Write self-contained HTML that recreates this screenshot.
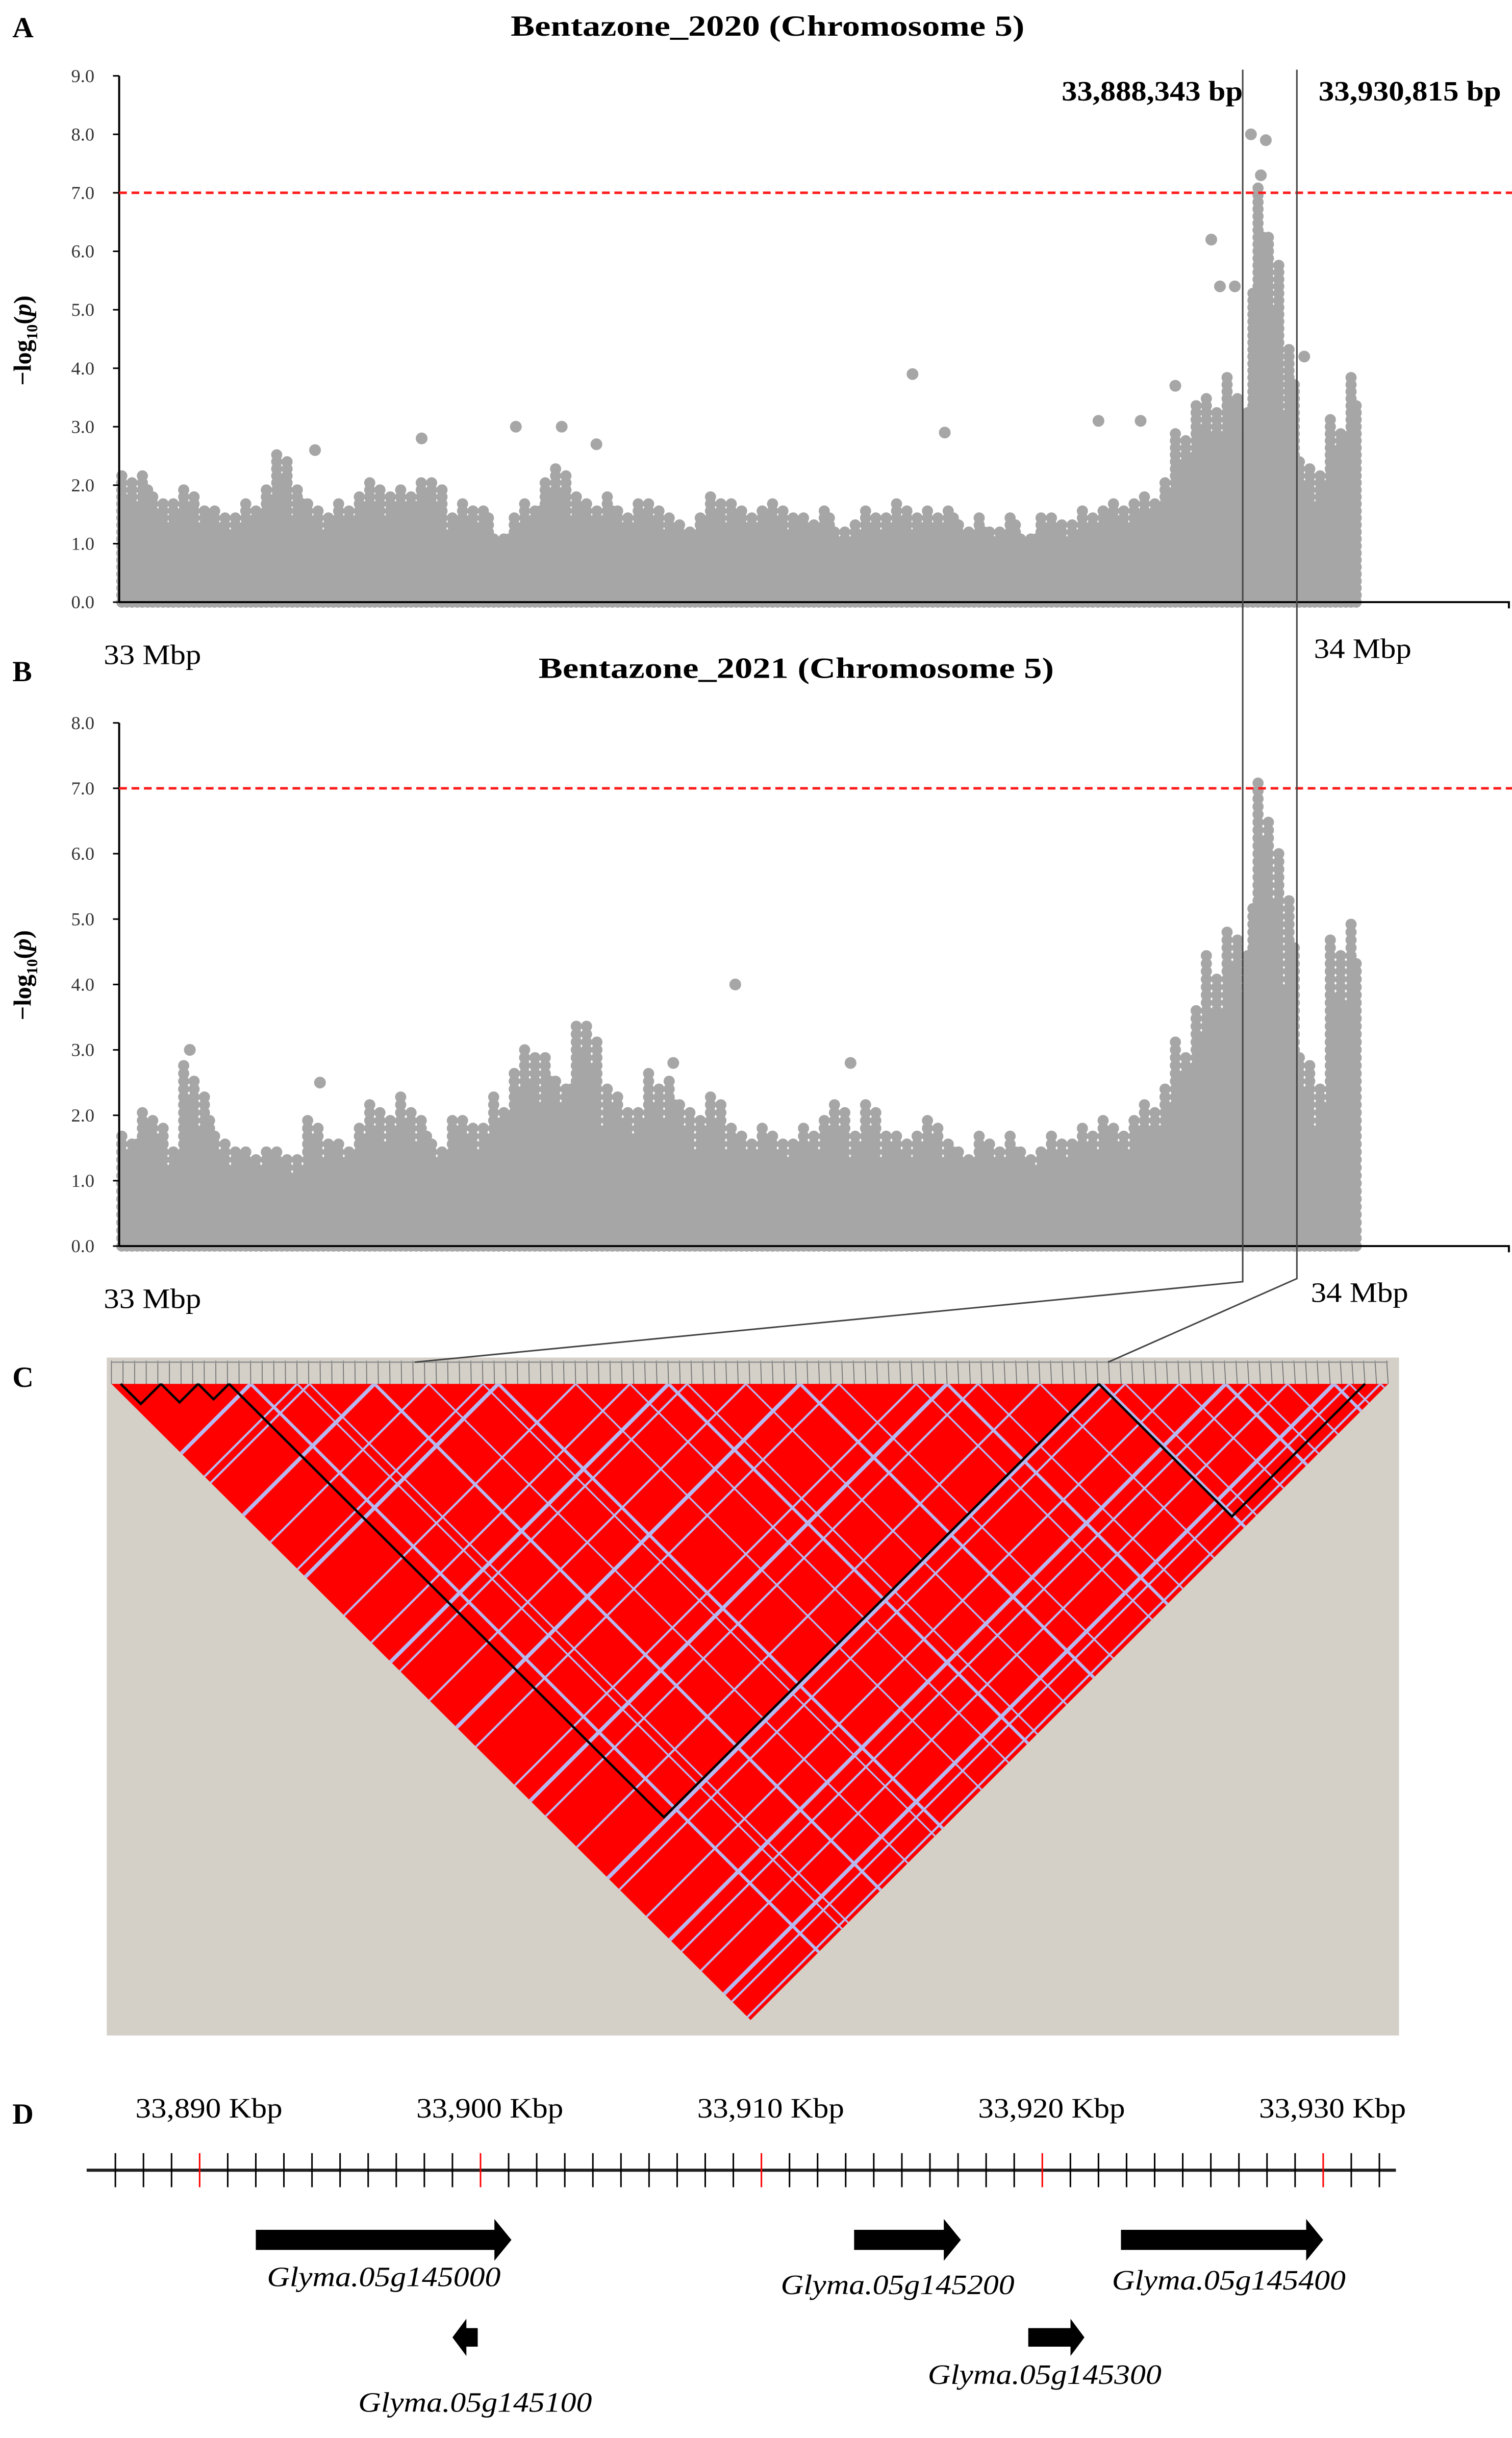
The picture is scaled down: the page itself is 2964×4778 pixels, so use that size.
<!DOCTYPE html>
<html><head><meta charset="utf-8"><style>
html,body{margin:0;padding:0;background:#fff}
svg{display:block}
text{font-family:"Liberation Serif",serif}
</style></head><body>
<svg id="fig" width="2964" height="4778" viewBox="0 0 977 1575" preserveAspectRatio="none" xmlns="http://www.w3.org/2000/svg">
<g id="panelA">
<text x="8" y="24" font-size="19" font-weight="bold">A</text>
<text x="330" y="23" font-size="19" font-weight="bold" textLength="332" lengthAdjust="spacingAndGlyphs">Bentazone_2020 (Chromosome  5)</text>
<text transform="translate(20,220) rotate(-90)" font-size="16" font-weight="bold" text-anchor="middle">−log<tspan font-size="10" dy="4">10</tspan><tspan dy="-4">(</tspan><tspan font-style="italic">p</tspan>)</text>
</g>
<g id="panelB">
<text x="8" y="440" font-size="19" font-weight="bold">B</text>
<text x="348" y="438" font-size="19" font-weight="bold" textLength="333" lengthAdjust="spacingAndGlyphs">Bentazone_2021 (Chromosome  5)</text>
<text transform="translate(20,630) rotate(-90)" font-size="16" font-weight="bold" text-anchor="middle">−log<tspan font-size="10" dy="4">10</tspan><tspan dy="-4">(</tspan><tspan font-style="italic">p</tspan>)</text>
</g>
<g id="panelC">
<text x="8" y="896" font-size="19" font-weight="bold">C</text>
</g>
<g id="panelD">
<text x="8" y="1372" font-size="19" font-weight="bold">D</text>
</g>
<g id="overlay"></g>
</svg>
<script>
// ---- Panel A data (max -log10(p) per 12.5 kb bin, 80 bins across 33-34 Mbp) ----
const envA = [2.2,2.3,1.9,1.8,2.0,1.7,1.6,1.5,1.8,2.1,
  2.6,2.0,1.7,1.6,1.8,1.9,2.1,1.9,2.0,2.2,
  2.1,1.6,1.8,1.7,1.2,1.5,1.8,2.2,2.4,1.9,
  1.8,1.9,1.6,1.8,1.7,1.5,1.4,1.6,1.9,1.8,
  1.6,1.7,1.8,1.6,1.5,1.7,1.3,1.4,1.6,1.5,
  1.8,1.5,1.6,1.7,1.4,1.5,1.3,1.6,1.2,1.5,
  1.5,1.4,1.6,1.7,1.8,1.8,1.9,2.2,3.0,3.5,
  3.5,4.0,3.6,7.4,6.3,4.5,2.5,2.3,3.2,4.0];
const outPosA = [158,244,320,357,640,666,881,888,900,913,925,921,956,790,824,852,385];
const outValA = [2.6,2.8,3.0,3.0,3.9,2.9,6.2,5.4,5.4,8.0,7.9,7.3,4.2,3.1,3.1,3.7,2.7];
const ticksA = ["0.0","1.0","2.0","3.0","4.0","5.0","6.0","7.0","8.0","9.0"];
// ---- Panel B data ----
const envB = [1.8,2.2,2.0,1.6,2.8,2.4,1.8,1.6,1.5,1.6,
  1.5,1.4,2.0,1.7,1.6,1.9,2.2,2.1,2.3,2.1,
  1.6,2.0,2.0,1.9,2.3,2.8,3.1,3.0,2.6,3.5,
  3.4,2.5,2.3,2.2,2.7,2.6,2.2,2.0,2.4,1.9,
  1.8,1.9,1.8,1.7,1.9,2.0,2.2,1.8,2.2,1.8,
  1.7,1.8,2.0,1.7,1.5,1.8,1.6,1.8,1.5,1.6,
  1.8,1.7,1.9,2.0,1.9,2.0,2.2,2.5,3.2,3.8,
  4.5,5.0,4.8,7.3,6.5,5.5,3.0,2.5,4.8,5.1];
const outPosB = [497,447,590,162,57];
const outValB = [4.0,2.8,2.8,2.5,3.0];
const ticksB = ["0.0","1.0","2.0","3.0","4.0","5.0","6.0","7.0","8.0"];
const threshold = 7.0;
// ---- Panel D gene data (kbp) ----
const geneNames = ["Glyma.05g145000","Glyma.05g145100","Glyma.05g145200","Glyma.05g145300","Glyma.05g145400"];
const geneStart = [33892.0,33899.0,33913.3,33919.5,33922.8];
const geneEnd = [33901.1,33899.9,33917.1,33921.5,33930.0];
const geneStrand = [1,-1,1,1,1];
const geneRow = [0,1,0,1,0];
const kbpLabels = [33890,33900,33910,33920,33930];

const NS="http://www.w3.org/2000/svg";
function mk(tag,attrs,parent){const e=document.createElementNS(NS,tag);for(const k in attrs)e.setAttribute(k,attrs[k]);parent.appendChild(e);return e;}

function manhattan(g,env,outPos,outVal,ticks,yTop,yBot,xEnd,tag){
  const x0=77,x1=878,ymax=ticks.length-1;
  const X=kb=>x0+kb/1000*(x1-x0);
  const Y=v=>yBot-v/ymax*(yBot-yTop);
  const pts=mk('g',{fill:'#a6a6a6'},g);
  
  
  const bw=1000/env.length;
  const jit=[1.0,0.8,0.93,0.72,0.97,0.85];
  env.forEach((v,i)=>{
    for(let c=0;c<3;c++){
      const kb=i*bw+bw*(c+0.5)/3;
      const top=v*jit[(i*3+c)%6];
      for(let y=0;y<=top;y+=0.12){
        mk('circle',{cx:X(kb).toFixed(1),cy:Y(y).toFixed(1),r:3.6},pts);
      }
    }
  });
  outPos.forEach((kb,i)=>{
    const p=mk('circle',{cx:X(kb),cy:Y(outVal[i]),r:3.8},pts);
    
    
  });
  const ax=mk('line',{x1:x0,y1:yTop,x2:x0,y2:yBot,stroke:'#000','stroke-width':1.3},g);
  
  
  const bx=mk('polyline',{points:`${x0},${yBot} ${xEnd},${yBot} ${xEnd},${yBot+4}`,fill:'none',stroke:'#000','stroke-width':1.3},g);
  
  
  ticks.forEach((t,i)=>{
    const tl=mk('line',{x1:x0-4,y1:Y(i),x2:x0,y2:Y(i),stroke:'#000'},g);
    
    
    const tx=mk('text',{x:x0-16,y:Y(i)+4,'font-size':12,'text-anchor':'end',fill:'#333'},g);
    tx.textContent=t;
    
    
  });
  const th=mk('line',{x1:x0,y1:Y(threshold),x2:977,y2:Y(threshold),stroke:'#ff1a1a','stroke-width':1.6,'stroke-dasharray':'5,3'},g);
  
  
}
const gA=document.getElementById('panelA'),gB=document.getElementById('panelB');
manhattan(gA,envA,outPosA,outValA,ticksA,49,389,975,'chart-a');
manhattan(gB,envB,outPosB,outValB,ticksB,467,805,975,'chart-b');
[[gA,67,429,'33 Mbp','x-start-label-a'],[gA,849,425,'34 Mbp','x-end-label-a'],[gB,67,845,'33 Mbp','x-start-label-b'],[gB,847,841,'34 Mbp','x-end-label-b']].forEach(a=>{
  const t=mk('text',{x:a[1],y:a[2],'font-size':18,textLength:63,lengthAdjust:'spacingAndGlyphs'},a[0]);t.textContent=a[3];
  
  
});
let t1=mk('text',{x:686,y:65,'font-size':18,'font-weight':'bold',textLength:117,lengthAdjust:'spacingAndGlyphs'},gA);t1.textContent='33,888,343 bp';


let t2=mk('text',{x:852,y:65,'font-size':18,'font-weight':'bold',textLength:118,lengthAdjust:'spacingAndGlyphs'},gA);t2.textContent='33,930,815 bp';



// ---- Panel C LD heatmap ----
const gC=document.getElementById('panelC');
let bg=mk('rect',{x:69,y:877,width:835,height:438,fill:'#d4d0c8'},gC);


const Lx=72,Rx=897,Ty=894,Ax=485,Ay=1305;
let tri=mk('polygon',{points:`${Lx},${Ty} ${Rx},${Ty} ${Ax},${Ay}`,fill:'#ff0000'},gC);


const clip=mk('clipPath',{id:'ldclip'},gC);mk('polygon',{points:`${Lx},${Ty} ${Rx},${Ty} ${Ax},${Ay}`},clip);
const lav=mk('g',{'clip-path':'url(#ldclip)',stroke:'#b8b8f0'},gC);


const offs=[90,120,128,170,205,240,250,300,335,360,372,410,445,470,520,540,560,600,640,655,690,720,735,760,790,800,820,850];
offs.forEach((o,i)=>{
  const x=Lx+o*(Rx-Lx)/825;const w=(i%3==0)?2.5:1.4;
  mk('line',{x1:x,y1:Ty,x2:x-450,y2:Ty+450,'stroke-width':w},lav);
  mk('line',{x1:x,y1:Ty,x2:x+450,y2:Ty+450,'stroke-width':w*0.8},lav);
});
const strip=mk('g',{stroke:'#777','stroke-width':0.6},gC);


for(let i=0;i<=110;i++){const xb=Lx+i*(Rx-Lx)/110;const xt=72+i*(896-72)/110;mk('line',{x1:xt,y1:879,x2:xb,y2:Ty},strip);}
mk('line',{x1:72,y1:880,x2:897,y2:880,stroke:'#999','stroke-width':1},gC);
const blk=mk('g',{fill:'none',stroke:'#000','stroke-width':1.5},gC);


[[78,104],[104,128],[128,148],[148,710],[710,882]].forEach(b=>{
  const h=(b[1]-b[0])/2*(Ay-Ty)/((Rx-Lx)/2);
  mk('polyline',{points:`${b[0]},${Ty} ${(b[0]+b[1])/2},${Ty+h} ${b[1]},${Ty}`},blk);
});

// ---- region connector lines ----
const ov=document.getElementById('overlay');
let rl=mk('polyline',{points:'803,45 803,828 268,880',fill:'none',stroke:'#444','stroke-width':1},ov);


let rr=mk('polyline',{points:'838,45 838,826 716,880',fill:'none',stroke:'#444','stroke-width':1},ov);



// ---- Panel D gene map ----
const gD=document.getElementById('panelD');
const KX=kb=>129+(kb-33890)*18.15;
let axl=mk('line',{x1:56,y1:1402,x2:902,y2:1402,stroke:'#222','stroke-width':2},gD);


for(let k=33887;k<=33932;k++){
  const red=(k%10==0);
  const tk=mk('line',{x1:KX(k),y1:1391,x2:KX(k),y2:1413,stroke:red?'#ff0000':'#000','stroke-width':1},gD);
  
  
}
kbpLabels.forEach(k=>{
  const t=mk('text',{x:KX(k)+6,y:1368,'font-size':18,'text-anchor':'middle',textLength:95,lengthAdjust:'spacingAndGlyphs'},gD);
  t.textContent=k.toLocaleString('en-US')+' Kbp';
  
  
});
geneNames.forEach((n,i)=>{
  const xs=KX(geneStart[i]),xe=KX(geneEnd[i]);
  const big=geneRow[i]==0;
  const cy=big?1447:1510;
  const sh=big?6.5:6,hh=big?13.5:12,hl=big?11:9;
  let pts;
  if(geneStrand[i]>0){pts=`${xs},${cy-sh} ${xe-hl},${cy-sh} ${xe-hl},${cy-hh} ${xe},${cy} ${xe-hl},${cy+hh} ${xe-hl},${cy+sh} ${xs},${cy+sh}`;}
  else{pts=`${xe},${cy-sh} ${xs+hl},${cy-sh} ${xs+hl},${cy-hh} ${xs},${cy} ${xs+hl},${cy+hh} ${xs+hl},${cy+sh} ${xe},${cy+sh}`;}
  const a=mk('polygon',{points:pts,fill:'#000'},gD);
  
  
  const lx=[248,307,580,675,794][i], ly=[1477,1558,1482,1540,1479][i];
  const t=mk('text',{x:lx,y:ly,'font-size':18,'font-style':'italic','text-anchor':'middle',textLength:151,lengthAdjust:'spacingAndGlyphs'},gD);
  t.textContent=n;
  
  
});
</script>
</body></html>
